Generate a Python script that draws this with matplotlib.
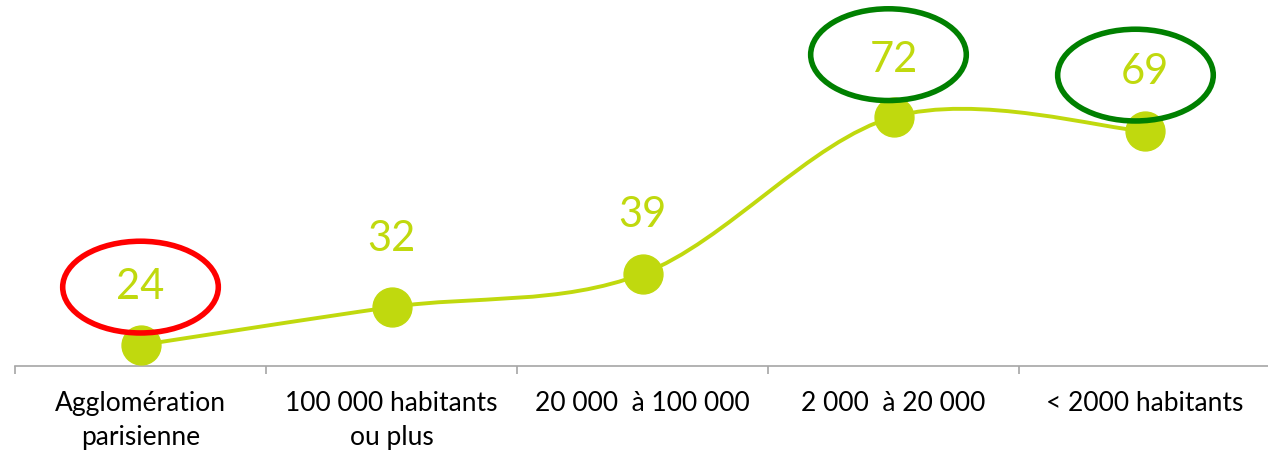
import matplotlib
matplotlib.use("Agg")
import matplotlib.pyplot as plt
from matplotlib.path import Path
from matplotlib.patches import PathPatch, Ellipse
import numpy as np

categories = ["Agglomération\nparisienne", "100 000 habitants\nou plus",
              "20 000  à 100 000", "2 000  à 20 000", "< 2000 habitants"]
values = [24, 32, 39, 72, 69]
value_labels = ["24", "32", "39", "72", "69"]

# highlighted labels: (index, colour)
highlights = [(0, "#FF0000"), (3, "#008000"), (4, "#008000")]

LIME = "#C0D90E"
W, H = 1268, 451
fig = plt.figure(figsize=(W / 100, H / 100), dpi=100)
fig.patch.set_facecolor("white")
ax = fig.add_axes([15 / W, (H - 366) / H, 1255 / W, 366 / H])
ax.set_xlim(-0.5, len(values) - 0.5)
ax.set_ylim(19.6, 96.6)

# smoothed line (Catmull-Rom -> cubic Bezier)
x = np.arange(len(values), dtype=float)
y = np.array(values, dtype=float)
P = np.column_stack([x, y])
Pext = np.vstack([P[0], P, P[-1]])
verts = [tuple(P[0])]
codes = [Path.MOVETO]
for i in range(len(P) - 1):
    p0, p1, p2, p3 = Pext[i], Pext[i + 1], Pext[i + 2], Pext[i + 3]
    c1 = p1 + (p2 - p0) / 6.0
    c2 = p2 - (p3 - p1) / 6.0
    verts += [tuple(c1), tuple(c2), tuple(p2)]
    codes += [Path.CURVE4] * 3
ax.add_patch(PathPatch(Path(verts, codes), fill=False, edgecolor=LIME, lw=2.8,
                       capstyle="round", zorder=2))
ax.plot(x, y, linestyle="none", marker="o", markersize=28, color=LIME, zorder=3)

label_font = ["Lato", "DejaVu Sans"]
offsets = [58, 68, 59, 57, 59]  # pixel offset of label centre above point
for xi, yi, lab, off in zip(x, y, value_labels, offsets):
    ax.annotate(lab, (xi, yi), xytext=(0, off * 0.72), textcoords="offset points",
                ha="center", va="center", fontsize=30, color=LIME,
                family=label_font, zorder=4)

# ellipses around selected labels
ell_dx = {0: 0.0, 3: -0.02, 4: -0.036}
ell_dy = {0: 12.2, 3: 13.1, 4: 11.8}
for idx, col in highlights:
    e = Ellipse((x[idx] + ell_dx[idx], y[idx] + ell_dy[idx]), width=0.62, height=19.3,
                fill=False, edgecolor=col, lw=4.0, clip_on=False, zorder=5)
    ax.add_patch(e)

for s in ["left", "right", "top"]:
    ax.spines[s].set_visible(False)
ax.spines["bottom"].set_color("#A6A6A6")
ax.spines["bottom"].set_linewidth(1.2)
ax.set_yticks([])
ax.set_xticks(x)
ax.set_xticklabels(categories, fontsize=19, family=label_font, color="black",
                   linespacing=1.45)
ax.tick_params(axis="x", which="major", length=0, pad=18)
ax.set_xticks(np.arange(-0.5, len(values), 1.0), minor=True)
ax.tick_params(axis="x", which="minor", length=6, width=1.2, color="#A6A6A6",
               direction="out")

fig.savefig("out.png", dpi=100, facecolor="white")
